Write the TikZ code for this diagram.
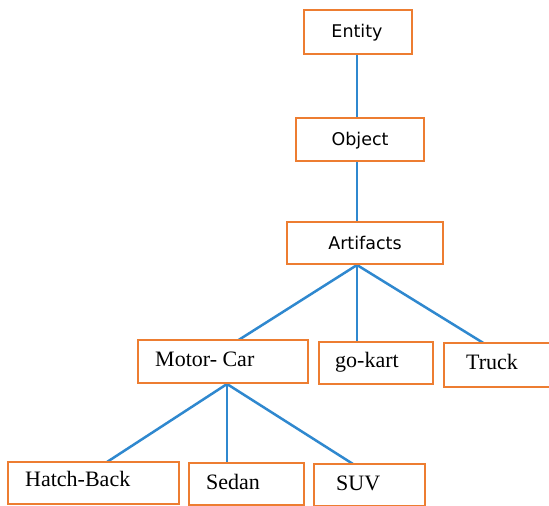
\documentclass[tikz,border=0pt]{standalone}
\usepackage{fontspec}
\newfontfamily\sansf{DejaVu Sans}
\newfontfamily\seriff{Liberation Serif}
\definecolor{boxorange}{HTML}{ED7D31}
\definecolor{linkblue}{HTML}{2F88CF}
\begin{document}
\begin{tikzpicture}[x=1pt,y=-1pt,
  box/.style={draw=boxorange, line width=2.8pt, fill=white, inner sep=0pt},
  link/.style={draw=linkblue, line width=2.5pt},
  stxt/.style={font=\sansf\fontsize{17.5}{20}\selectfont, inner sep=0pt, anchor=base},
  rtxt/.style={font=\seriff\fontsize{22}{25}\selectfont, inner sep=0pt, anchor=base west}]
\useasboundingbox (0,0) rectangle (549,506);
\fill[white] (0,0) rectangle (549,506);
% junctions
\coordinate (aj) at (357,265);
\coordinate (mj) at (227,384);
\coordinate (mcT) at (237,341);
\coordinate (gkT) at (357,343);
\coordinate (trT) at (485,344);
\coordinate (hbT) at (107,462);
\coordinate (sdT) at (227,463);
\coordinate (suT) at (353,464);
% links
\draw[link] (aj |- 0,54) -- (aj |- 0,118);
\draw[link] (aj |- 0,161) -- (aj |- 0,222);
\draw[link] (aj) -- (mcT);
\draw[link] (aj) -- (gkT);
\draw[link] (aj) -- (trT);
\draw[link] (mj) -- (hbT);
\draw[link] (mj) -- (sdT);
\draw[link] (mj) -- (suT);
% boxes
\node[box, minimum width=108, minimum height=44] (ent) at (358,32) {};
\node[box, minimum width=128, minimum height=43] (obj) at (360,139.5) {};
\node[box, minimum width=156, minimum height=42] (art) at (365,243) {};
\node[box, minimum width=170, minimum height=43] (mc) at (223,361.5) {};
\node[box, minimum width=114, minimum height=42] (gk) at (376,363) {};
\node[box, minimum width=107, minimum height=44] (tr) at (497.5,365) {};
\node[box, minimum width=171, minimum height=42] (hb) at (93.5,483) {};
\node[box, minimum width=115, minimum height=42] (sd) at (246.5,484) {};
\node[box, minimum width=111, minimum height=42] (su) at (369.5,485) {};
% texts
\node[stxt] (entT) at (357,37) {Entity};
\node[stxt] (objT) at (360,145) {Object};
\node[stxt] (artT) at (365,249) {Artifacts};
\node[rtxt] (mcX) at (155,366) {Motor- Car};
\node[rtxt] (gkX) at (335,367) {go-kart};
\node[rtxt] (trX) at (466,369) {Truck};
\node[rtxt] (hbX) at (25,486) {Hatch-Back};
\node[rtxt] (sdX) at (206,489) {Sedan};
\node[rtxt] (suX) at (336,490) {SUV};
\end{tikzpicture}
\end{document}
